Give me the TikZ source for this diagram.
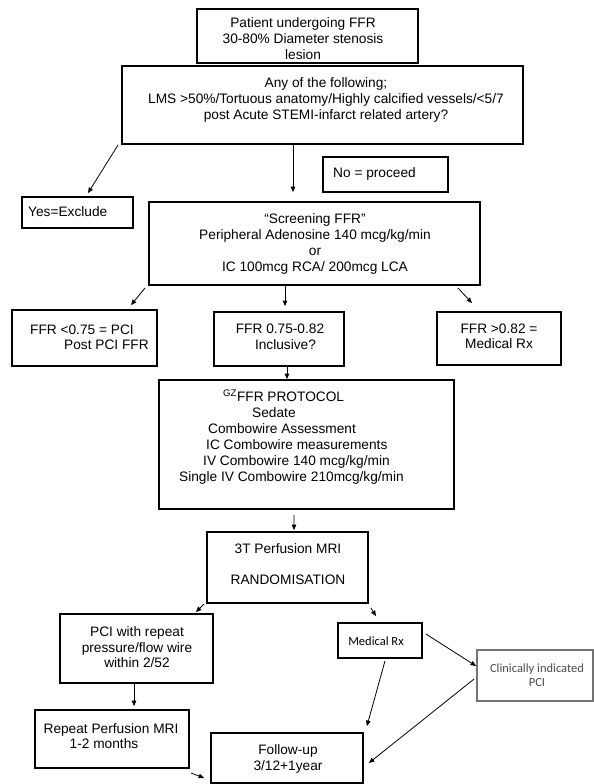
\documentclass[tikz,border=0pt]{standalone}
\usepackage{fontspec}
\setmainfont{Liberation Sans}
\newfontfamily\calfont{Carlito}
\usetikzlibrary{arrows.meta,calc}
\begin{document}
\begin{tikzpicture}[x=1bp,y=-1bp,
  box/.style={draw, line width=1.8bp, rectangle, inner sep=0pt},
  txt/.style={inner sep=0pt, font=\fontsize{13.7bp}{16bp}\selectfont},
  caltxt/.style={inner sep=0pt, font=\calfont\fontsize{12.5bp}{14bp}\selectfont},
  arr/.style={-{Triangle[length=5.5bp,width=4.5bp]}, line width=0.8bp}]
\useasboundingbox (0,0) rectangle (594,784);
\fill[white] (0,0) rectangle (594,784);

% boxes
\node[box, minimum width=221bp, minimum height=54bp] (pat) at (307.5,36) {};
\node[box, minimum width=401bp, minimum height=78bp] (any) at (322.5,105) {};
\node[box, minimum width=111bp, minimum height=31bp] (yes) at (77.5,212.5) {};
\node[box, minimum width=125bp, minimum height=35bp] (no) at (385.5,174.5) {};
\node[box, minimum width=331bp, minimum height=83bp] (scr) at (314.5,243.5) {};
\node[box, minimum width=145bp, minimum height=56bp] (fa) at (84.5,338) {};
\node[box, minimum width=130bp, minimum height=54bp] (fb) at (279,339) {};
\node[box, minimum width=124bp, minimum height=53bp] (fc) at (499,338.5) {};
\node[box, minimum width=295bp, minimum height=129bp] (prot) at (306.5,444.5) {};
\node[box, minimum width=161bp, minimum height=71bp] (mri) at (287.5,567.5) {};
\node[box, minimum width=153bp, minimum height=69bp] (pci) at (136.5,648.5) {};
\node[box, minimum width=84bp, minimum height=35bp] (med) at (380,640.5) {};
\node[box, draw=black!55, minimum width=116bp, minimum height=51bp] (clin) at (535,675.5) {};
\node[box, minimum width=154bp, minimum height=58bp] (rep) at (112,739) {};
\node[box, minimum width=152bp, minimum height=50bp] (fu) at (287,758) {};

% texts
\node[txt, align=center] (patT) at (303,38.5) {Patient undergoing FFR\\30-80\% Diameter stenosis\\lesion};
\node[txt, align=center] (anyT) at (326,100) {Any of the following;\\LMS >50\%/Tortuous anatomy/Highly calcified vessels/<5/7\\post Acute STEMI-infarct related artery?};
\node[txt, anchor=west] (yesT) at (28,212) {Yes=Exclude};
\node[txt, anchor=west] (noT) at (333,174) {No = proceed};
\node[txt, align=center] (scrT) at (315,244) {“Screening FFR”\\Peripheral Adenosine 140 mcg/kg/min\\or\\IC 100mcg RCA/ 200mcg LCA};
\node[txt, align=left, anchor=west, font=\fontsize{13.7bp}{15bp}\selectfont] (faT) at (30,337.5) {FFR <0.75 = PCI\\\hspace*{34bp}Post PCI FFR};
\node[txt, align=center, font=\fontsize{13.7bp}{16bp}\selectfont] (fbT) at (280,337) {FFR 0.75-0.82\\\hspace*{11bp}Inclusive?};
\node[txt, align=center, font=\fontsize{13.7bp}{15bp}\selectfont] (fcT) at (499,336.5) {FFR >0.82 =\\Medical Rx};
\node[txt, align=left, anchor=west] (protT) at (179,437) {\hspace*{44bp}\textsuperscript{GZ}FFR PROTOCOL\\
\hspace*{73bp}Sedate\\
\hspace*{29bp}Combowire Assessment\\
\hspace*{27bp}IC Combowire measurements\\
\hspace*{24bp}IV Combowire 140 mcg/kg/min\\
Single IV Combowire 210mcg/kg/min};
\node[txt, align=center] (mriT) at (288,564.5) {3T Perfusion MRI\\[15bp]RANDOMISATION};
\node[txt, align=center, font=\fontsize{13.7bp}{15.5bp}\selectfont] (pciT) at (137,647.5) {PCI with repeat\\pressure/flow wire\\within 2/52};
\node[caltxt] (medT) at (376,641) {Medical Rx};
\node[caltxt, align=center, text=black!70] (clinT) at (537,675) {Clinically indicated\\PCI};
\node[txt, align=center, font=\fontsize{13.7bp}{14.5bp}\selectfont] (repT) at (111,736) {Repeat Perfusion MRI\\1-2 months\hspace*{14bp}};
\node[txt, align=center] (fuT) at (288,759) {Follow-up\\3/12+1year};

% connectors
\draw[arr] ($(any.south west)+(-3,0)$) -- ($(yes.north)+(10.5,-3)$);
\draw[arr] ($(any.south)+(-29.5,0)$) -- ($(scr.north)+(-21.5,-9)$);
\draw[arr] ($(scr.south west)+(-3,2)$) -- ($(fa.north)+(46.5,-4)$);
\draw[arr] ($(scr.south)+(-29.5,0)$) -- ($(fb.north)+(6,-5)$);
\draw[arr] ($(scr.south east)+(-23,2)$) -- ($(fc.north)+(-27,-8)$);
\draw[arr] ($(fb.south)+(8,0)$) -- ($(prot.north)+(-19.5,0)$);
\draw[arr] ($(prot.south)+(-12.5,5)$) -- ($(mri.north)+(6.5,-1)$);
\draw[arr] ($(mri.south west)+(-2,0)$) -- ($(pci.north east)+(-18,-1)$);
\draw[arr] ($(mri.south east)+(2,4)$) -- ($(med.north)+(-4,-6)$);
\draw[arr] ($(med.east)+(3,-6.5)$) -- ($(clin.west)+(0,-9.5)$);
\draw[arr] ($(pci.south)+(-2.5,0)$) -- ($(rep.north)+(22,-3)$);
\draw[arr] ($(med.south)+(5,2)$) -- ($(fu.north east)+(3,-6)$);
\draw[arr] ($(clin.west)+(-2,3.5)$) -- ($(fu.east)+(5,5)$);
\draw[arr] ($(rep.south east)+(1,4)$) -- ($(fu.west)+(-6,20)$);
\end{tikzpicture}
\end{document}
